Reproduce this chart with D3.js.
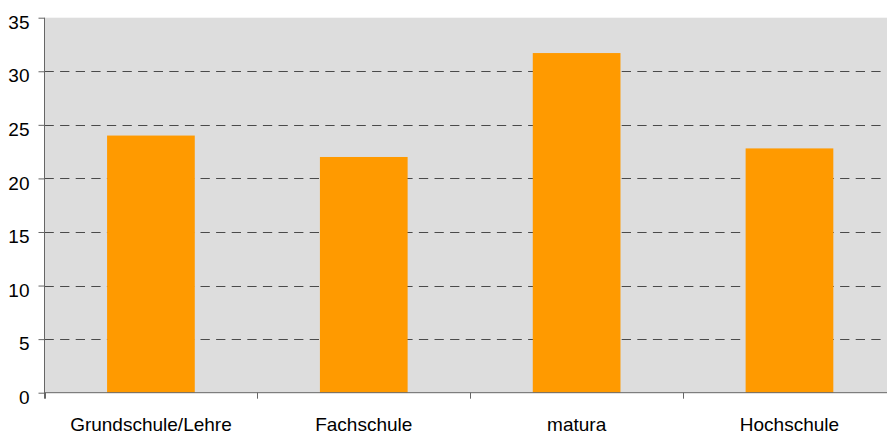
<!DOCTYPE html>
<html>
<head>
<meta charset="utf-8">
<script src="https://cdn.jsdelivr.net/npm/d3@7"></script>
<style>
  html, body { margin: 0; padding: 0; background: #ffffff; }
  svg { display: block; }
  text { font-family: "Liberation Sans", Arial, sans-serif; fill: #000; }
</style>
</head>
<body>
<svg id="chart" width="887" height="434"></svg>
<script>
// Education level categories and their values
const categories = ["Grundschule/Lehre", "Fachschule", "matura", "Hochschule"];
const values = [24.0, 22.0, 31.7, 22.8];
const yTicks = [0, 5, 10, 15, 20, 25, 30, 35];
const gridValues = [5, 10, 15, 20, 25, 30];

const svg = d3.select("#chart");
const plot = { left: 44.5, right: 895.9, top: 17.7, bottom: 392.7 };
const fontSize = "19px";

const x = d3.scaleBand()
  .domain(categories)
  .range([plot.left, plot.right])
  .padding(0);

const y = d3.scaleLinear()
  .domain([0, 35])
  .range([plot.bottom, plot.top]);

// Plot background
svg.append("rect")
  .attr("x", plot.left)
  .attr("y", plot.top)
  .attr("width", plot.right - plot.left)
  .attr("height", plot.bottom - plot.top)
  .attr("fill", "#dddddd");

// Dashed horizontal gridlines
svg.append("g")
  .selectAll("line")
  .data(gridValues)
  .join("line")
  .attr("x1", plot.left)
  .attr("x2", 883)
  .attr("y1", d => Math.round(y(d)) + 0.5)
  .attr("y2", d => Math.round(y(d)) + 0.5)
  .attr("stroke", "#4a4a4a")
  .attr("stroke-width", 1)
  .attr("stroke-dasharray", "9.3,6.3");

// Bars
const barFrac = 0.412;
svg.append("g")
  .selectAll("rect")
  .data(categories.map((c, i) => ({ c, v: values[i] })))
  .join("rect")
  .attr("x", d => x(d.c) + x.bandwidth() * (1 - barFrac) / 2)
  .attr("width", x.bandwidth() * barFrac)
  .attr("y", d => y(d.v))
  .attr("height", d => y(0) - y(d.v))
  .attr("fill", "#ff9a00");

// Y axis
const yAxis = svg.append("g")
  .attr("transform", `translate(${plot.left},0)`)
  .call(d3.axisLeft(y).tickValues(yTicks).tickSize(6).tickPadding(9).tickSizeOuter(0));
yAxis.select(".domain").attr("stroke", "#666").attr("d", `M0,${plot.top}V${plot.bottom + 6}`);
yAxis.selectAll(".tick line").attr("stroke", "#666");
yAxis.selectAll(".tick text")
  .attr("font-size", fontSize)
  .attr("font-family", "'Liberation Sans', Arial, sans-serif")
  .attr("fill", "#000")
  .attr("dy", "0.56em");

// X axis line with ticks at category boundaries
const boundaries = categories.map(c => x(c)).concat([plot.right]);
const xLine = svg.append("g");
xLine.append("line")
  .attr("x1", plot.left).attr("x2", plot.right)
  .attr("y1", plot.bottom).attr("y2", plot.bottom)
  .attr("stroke", "#666");
xLine.selectAll("line.tk")
  .data(boundaries)
  .join("line")
  .attr("class", "tk")
  .attr("x1", d => Math.round(d) + 0.5).attr("x2", d => Math.round(d) + 0.5)
  .attr("y1", plot.bottom).attr("y2", plot.bottom + 6)
  .attr("stroke", "#666");

// Category labels
const xAxis = svg.append("g")
  .attr("transform", `translate(0,${plot.bottom})`)
  .call(d3.axisBottom(x).tickSize(0).tickPadding(25));
xAxis.select(".domain").remove();
xAxis.selectAll(".tick text")
  .attr("font-size", fontSize)
  .attr("font-family", "'Liberation Sans', Arial, sans-serif")
  .attr("fill", "#000");
</script>
</body>
</html>
